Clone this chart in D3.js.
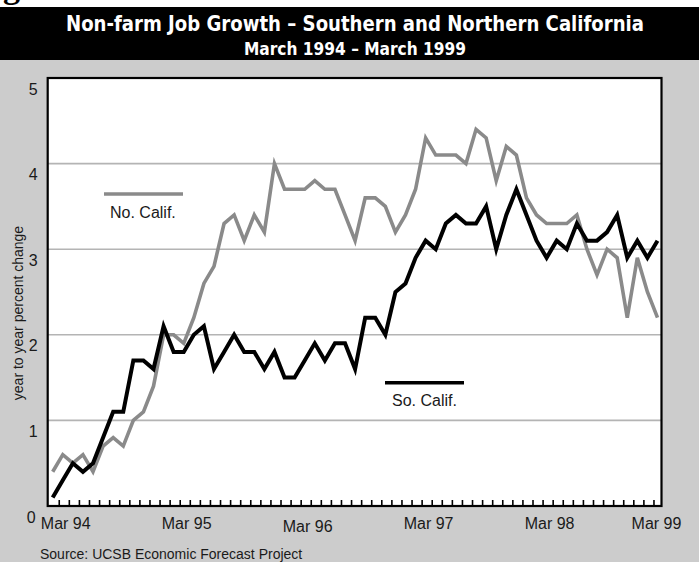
<!DOCTYPE html>
<html>
<head>
<meta charset="utf-8">
<script src="https://cdnjs.cloudflare.com/ajax/libs/d3/7.8.5/d3.min.js"></script>
<style>
  html, body { margin: 0; padding: 0; background: #ffffff; }
  svg { display: block; }
  text { font-family: "Liberation Sans", Arial, Helvetica, sans-serif; }
</style>
</head>
<body>
<svg id="chart" width="699" height="562"></svg>
<script>
// ---- data (monthly, Mar 1994 .. Mar 1999) ----
const monthIndex = d3.range(0, 61);
const southCalif = [0.1,0.3,0.5,0.4,0.5,0.8,1.1,1.1,1.7,1.7,1.6,2.1,1.8,1.8,2.0,2.1,1.6,1.8,2.0,1.8,
  1.8,1.6,1.8,1.5,1.5,1.7,1.9,1.7,1.9,1.9,1.6,2.2,2.2,2.0,2.5,2.6,2.9,3.1,3.0,3.3,
  3.4,3.3,3.3,3.5,3.0,3.4,3.7,3.4,3.1,2.9,3.1,3.0,3.3,3.1,3.1,3.2,3.4,2.9,3.1,2.9,3.1];
const northCalif = [0.4,0.6,0.5,0.6,0.4,0.7,0.8,0.7,1.0,1.1,1.4,2.0,2.0,1.9,2.2,2.6,2.8,3.3,3.4,3.1,
  3.4,3.2,4.0,3.7,3.7,3.7,3.8,3.7,3.7,3.4,3.1,3.6,3.6,3.5,3.2,3.4,3.7,4.3,4.1,4.1,
  4.1,4.0,4.4,4.3,3.8,4.2,4.1,3.6,3.4,3.3,3.3,3.3,3.4,3.0,2.7,3.0,2.9,2.2,2.9,2.5,2.2];
const xTickIndex = [0, 12, 24, 36, 48, 60];
const xTickLabels = ["Mar 94", "Mar 95", "Mar 96", "Mar 97", "Mar 98", "Mar 99"];
const yTicks = [0, 1, 2, 3, 4, 5];
const seriesNames = ["No. Calif.", "So. Calif."];
const titleText = "Non-farm Job Growth \u2013 Southern and Northern California";
const subtitleText = "March 1994 \u2013 March 1999";
const yTitle = "year to year percent change";
const sourceText = "Source: UCSB Economic Forecast Project";

// ---- layout ----
const W = 699, H = 562;
const plot = { left: 47.7, right: 661.5, top: 78, bottom: 506 };

const svg = d3.select("#chart");

// backgrounds
svg.append("rect").attr("x", 0).attr("y", 0).attr("width", W).attr("height", H).attr("fill", "#ffffff");
svg.append("text").text("g").attr("x", 3).attr("y", -2)
  .style("font-family", "'Liberation Serif', 'Times New Roman', serif")
  .style("font-weight", "bold").style("font-size", "34px").attr("fill", "#000");
svg.append("rect").attr("x", 0).attr("y", 60).attr("width", W).attr("height", H - 60).attr("fill", "#cccccc");
svg.append("rect").attr("x", 0).attr("y", 7).attr("width", W).attr("height", 53).attr("fill", "#000000");

// titles
const condensed = "'Liberation Sans Narrow', 'DejaVu Sans Condensed', 'Liberation Sans', sans-serif";
svg.append("text").text(titleText)
  .attr("x", 355).attr("y", 31).attr("text-anchor", "middle")
  .attr("textLength", 578).attr("lengthAdjust", "spacingAndGlyphs")
  .style("font-family", condensed)
  .style("font-weight", "bold").style("font-size", "22px").attr("fill", "#ffffff");
svg.append("text").text(subtitleText)
  .attr("x", 355).attr("y", 55).attr("text-anchor", "middle")
  .attr("textLength", 222).attr("lengthAdjust", "spacingAndGlyphs")
  .style("font-family", condensed)
  .style("font-weight", "bold").style("font-size", "17px").attr("fill", "#ffffff");

// scales
const x = d3.scaleLinear().domain([0, 60]).range([52.7, 657.5]);
const y = d3.scaleLinear().domain([0, 5]).range([plot.bottom, plot.top]);

// plot area
svg.append("rect")
  .attr("x", plot.left).attr("y", plot.top)
  .attr("width", plot.right - plot.left).attr("height", plot.bottom - plot.top)
  .attr("fill", "#ffffff");

// gridlines
svg.append("g").selectAll("line").data(yTicks.filter(v => v > 0 && v < 5)).join("line")
  .attr("x1", plot.left).attr("x2", plot.right)
  .attr("y1", d => y(d)).attr("y2", d => y(d))
  .attr("stroke", "#b4b4b4").attr("stroke-width", 1.6);

// y axis labels
const yAxis = d3.axisLeft(y).tickValues(yTicks).tickSize(0).tickPadding(0).tickFormat(d3.format("d"));
const gy = svg.append("g").attr("transform", `translate(${plot.left - 10},0)`).call(yAxis);
gy.select(".domain").remove();
gy.selectAll("text").attr("dy", "1.0em").attr("dx", 0)
  .style("font-size", "16px").style("font-family", "'Liberation Sans', Arial, sans-serif").attr("fill", "#1a1a1a");
gy.selectAll(".tick").filter(d => d === 0).select("text").attr("dy", "1.05em").attr("x", -2);

// y title
svg.append("text").text(yTitle)
  .attr("transform", `translate(23,${313}) rotate(-90)`)
  .attr("text-anchor", "middle")
  .style("font-size", "14px").attr("fill", "#1a1a1a");

// monthly ticks (pointing up, inside)
const monthTicks = d3.axisBottom(x).tickValues(d3.range(0.6, 60.6, 1)).tickSize(-6).tickFormat("");
const gm = svg.append("g").attr("transform", `translate(0,${plot.bottom})`).call(monthTicks);
gm.select(".domain").remove();
gm.selectAll("line").attr("stroke", "#000").attr("stroke-width", 1.6);

// x labels
const xAxis = d3.axisBottom(x).tickValues(xTickIndex).tickSize(0).tickPadding(0)
  .tickFormat((d, i) => xTickLabels[i]);
const gx = svg.append("g").attr("transform", `translate(0,${plot.bottom})`).call(xAxis);
gx.select(".domain").remove();
gx.selectAll("text")
  .style("font-size", "16px").style("font-family", "'Liberation Sans', Arial, sans-serif")
  .attr("fill", "#1a1a1a")
  .attr("y", 23).attr("dy", 0)
  .attr("x", (d, i) => i === xTickIndex.length - 1 ? -1.5 : 12.5);
gx.selectAll(".tick").filter(d => d === 24).select("text").attr("y", 26);

// lines
const line = d3.line().x((d, i) => x(monthIndex[i])).y(d => y(d));
svg.append("path").datum(northCalif).attr("d", line)
  .attr("fill", "none").attr("stroke", "#8a8a8a").attr("stroke-width", 3.6)
  .attr("stroke-linejoin", "miter");
svg.append("path").datum(southCalif).attr("d", line)
  .attr("fill", "none").attr("stroke", "#000000").attr("stroke-width", 4)
  .attr("stroke-linejoin", "miter");

// plot border
svg.append("rect")
  .attr("x", plot.left).attr("y", plot.top)
  .attr("width", plot.right - plot.left).attr("height", plot.bottom - plot.top)
  .attr("fill", "none").attr("stroke", "#000").attr("stroke-width", 2.2);

// legends
const legend = [
  { name: seriesNames[0], color: "#8a8a8a", x1: 104, x2: 183, ly: 194, tx: 110, ty: 218 },
  { name: seriesNames[1], color: "#000000", x1: 385, x2: 464, ly: 382.7, tx: 392, ty: 406 }
];
const lg = svg.append("g");
lg.selectAll("line").data(legend).join("line")
  .attr("x1", d => d.x1).attr("x2", d => d.x2).attr("y1", d => d.ly).attr("y2", d => d.ly)
  .attr("stroke", d => d.color).attr("stroke-width", 3.6);
lg.selectAll("text").data(legend).join("text")
  .attr("x", d => d.tx).attr("y", d => d.ty).text(d => d.name)
  .style("font-size", "16px").attr("fill", "#1a1a1a");

// source
svg.append("text").text(sourceText).attr("x", 40).attr("y", 559)
  .style("font-size", "14px").attr("fill", "#1a1a1a");
</script>
</body>
</html>
